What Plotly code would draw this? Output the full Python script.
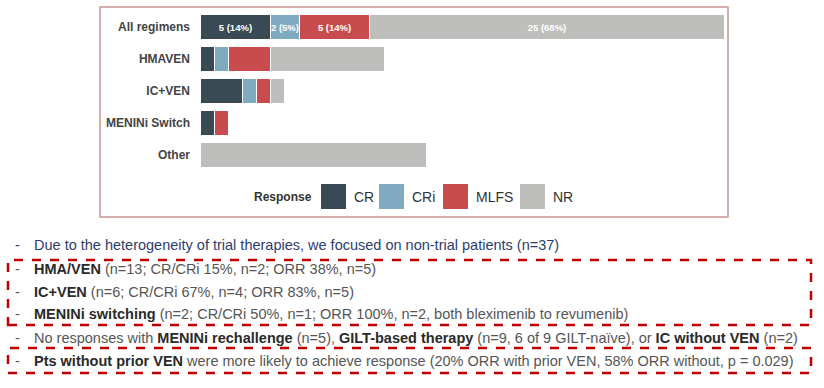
import plotly.graph_objects as go

categories = ["All regimens", "HMAVEN", "IC+VEN", "MENINi Switch", "Other"]
responses = ["CR", "CRi", "MLFS", "NR"]
colors = ["#3A4A54", "#7FAAC0", "#C84B4E", "#BEBEBC"]
values = {
    "CR":   [5, 1, 3, 1, 0],
    "CRi":  [2, 1, 1, 0, 0],
    "MLFS": [5, 3, 1, 1, 0],
    "NR":   [25, 8, 1, 0, 16],
}
total_all = 37

W, H = 824, 388
def px(x):
    return x / W
def py(y):
    return 1 - y / H

fig = go.Figure()
for r, c in zip(responses, colors):
    vals = values[r]
    texts = [f"{vals[0]} ({round(100*vals[0]/total_all)}%)"] + [""] * (len(vals) - 1)
    fig.add_trace(go.Bar(
        y=categories, x=vals, name=r, orientation="h",
        marker=dict(color=c, line=dict(color="white", width=1)),
        text=texts, textposition="inside", insidetextanchor="middle",
        textfont=dict(family="Liberation Sans", size=9.5, color="white", weight="bold"),
        constraintext="none", showlegend=False, hoverinfo="skip",
    ))

fig.update_layout(
    width=W, height=H, margin=dict(l=0, r=0, t=0, b=0),
    paper_bgcolor="white", plot_bgcolor="white",
    barmode="stack", bargap=0.19,
    xaxis=dict(domain=[px(200), px(724)], range=[0, total_all], visible=False),
    yaxis=dict(domain=[py(171), py(11)], categoryorder="array", categoryarray=categories,
               autorange="reversed", showgrid=False, zeroline=False, showline=False,
               ticks="", ticklabelstandoff=9,
               tickfont=dict(family="Liberation Sans", size=12, color="#444444", weight="bold")),
    font=dict(family="Liberation Sans"),
)

shapes = []
annotations = []
# chart frame
shapes.append(dict(type="rect", xref="paper", yref="paper", x0=px(100), x1=px(728), y0=py(217), y1=py(7),
                   line=dict(color="#C89494", width=1.5), fillcolor="rgba(0,0,0,0)"))
# custom legend
annotations.append(dict(xref="paper", yref="paper", x=px(314), y=py(197), xanchor="right", yanchor="middle",
                        text="<b>Response</b>", showarrow=False,
                        font=dict(family="Liberation Sans", size=12, color="#333333")))
leg_x = [321, 379, 443, 520]
for lx, r, c in zip(leg_x, responses, colors):
    shapes.append(dict(type="rect", xref="paper", yref="paper", x0=px(lx), x1=px(lx + 25),
                       y0=py(209), y1=py(184), fillcolor=c, line=dict(width=0)))
    annotations.append(dict(xref="paper", yref="paper", x=px(lx + 31), y=py(197), xanchor="left",
                            yanchor="middle", text=r, showarrow=False,
                            font=dict(family="Liberation Sans", size=14, color="#333333")))

# text block below
FS = 14.5
lines = [
    (245, "#2E3D6B", "Due to the heterogeneity of trial therapies, we focused on non-trial patients (n=37)"),
    (269, "#555555", "<b>HMA/VEN</b> (n=13; CR/CRi 15%, n=2; ORR 38%, n=5)"),
    (292, "#555555", "<b>IC+VEN</b> (n=6; CR/CRi 67%, n=4; ORR 83%, n=5)"),
    (314, "#555555", "<b>MENINi switching</b> (n=2; CR/CRi 50%, n=1; ORR 100%, n=2, both bleximenib to revumenib)"),
    (338, "#555555", "No responses with <b>MENINi rechallenge</b> (n=5), <b>GILT-based therapy</b> (n=9, 6 of 9 GILT-naïve), or <b>IC without VEN</b> (n=2)"),
    (361, "#555555", "<b>Pts without prior VEN</b> were more likely to achieve response (20% ORR with prior VEN, 58% ORR without, p = 0.029)"),
]
for y, col, t in lines:
    t = t.replace("<b>", "<span style='color:#2A2A2A'><b>").replace("</b>", "</b></span>")
    annotations.append(dict(xref="paper", yref="paper", x=px(13), y=py(y), xanchor="left", yanchor="middle",
                            text="-", showarrow=False, font=dict(family="Liberation Sans", size=FS, color=col)))
    annotations.append(dict(xref="paper", yref="paper", x=px(32), y=py(y), xanchor="left", yanchor="middle",
                            text=t, showarrow=False, font=dict(family="Liberation Sans", size=FS, color=col)))

# dashed boxes
for y0, y1 in [(260, 325), (348, 373)]:
    shapes.append(dict(type="rect", xref="paper", yref="paper", x0=px(8), x1=px(811), y0=py(y1), y1=py(y0),
                       line=dict(color="#C00000", width=2.5, dash="dash"), fillcolor="rgba(0,0,0,0)"))

fig.update_layout(shapes=shapes, annotations=annotations)
fig.write_html("out.html", config={"displayModeBar": False},
               post_script="document.body.style.margin='0';document.body.style.overflow='hidden';")
